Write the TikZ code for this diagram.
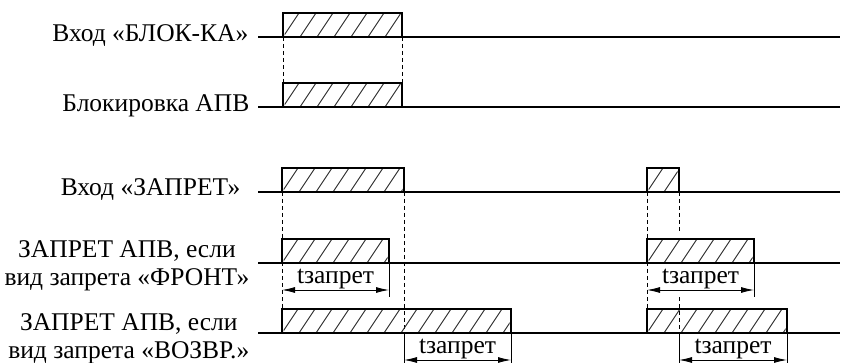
\documentclass[tikz,border=0pt]{standalone}
\usepackage{fontspec}
\setmainfont{Liberation Serif}
\usetikzlibrary{arrows.meta}
\begin{document}
\begin{tikzpicture}[x=1pt,y=-1pt,line width=1.3pt,font=\fontsize{25.5}{28.5}\selectfont,
  hatch/.style={line width=.9pt,black!85},guide/.style={line width=.8pt,dash pattern=on 4pt off 3pt},
  tick/.style={line width=.8pt},
  dim/.style={line width=.9pt,{Latex[length=13pt,width=6pt]}-{Latex[length=13pt,width=6pt]}},
  lbl/.style={anchor=east,align=center,inner sep=0pt}]
\useasboundingbox (0,0) rectangle (843,363);
\node[lbl] (blok) at (249,36) {Вход «БЛОК-КА»};
\node[lbl] (apv) at (250,106) {Блокировка АПВ};
\node[lbl] (zapr) at (241,190) {Вход «ЗАПРЕТ»};
\node[lbl] (front) at (250,266) {ЗАПРЕТ АПВ, если\\вид запрета «ФРОНТ»};
\node[lbl] (vozvr) at (250,339) {ЗАПРЕТ АПВ, если\\вид запрета «ВОЗВР.»};
\foreach \yl in {37,107,192,263,333} \draw (258,\yl)--(840,\yl);
\draw[guide] (283,37)--(283,84);\draw[guide] (402,37)--(402,84);
\draw[guide] (282,192)--(282,310);\draw[guide] (404,192)--(404,333);
\draw[guide] (647,192)--(647,310);\draw[guide] (679,192)--(679,232);\draw[guide] (679,297)--(679,333);
\foreach \xa/\xb/\yb in {283/402/37,283/402/107,282/404/192,282/389/263,282/511/333,647/679/192,647/754/263,647/787/333}{
  \begin{scope}\clip (\xa+1.5,\yb-1.5) rectangle (\xb-1.5,\yb-22.5);
  \foreach \h in {-17,0,...,238} \draw[hatch] (\xa+\h,\yb)--++(16,-24);\end{scope}
  \draw (\xa,\yb) rectangle (\xb,\yb-24);}
\foreach \xt in {389,754} \draw[tick] (\xt,263)--(\xt,297);
\foreach \xt in {404,511,679,787} \draw[tick] (\xt,333)--(\xt,363);
\draw[dim] (282,290)--node[above,inner sep=1pt] (tf1) {tзапрет} (389,290);
\draw[dim] (647,290)--node[above,inner sep=1pt] (tf2) {tзапрет} (754,290);
\draw[dim] (404,360)--node[above,inner sep=1pt] (tv1) {tзапрет} (511,360);
\draw[dim] (679,360)--node[above,inner sep=1pt] (tv2) {tзапрет} (787,360);
\end{tikzpicture}
\end{document}
